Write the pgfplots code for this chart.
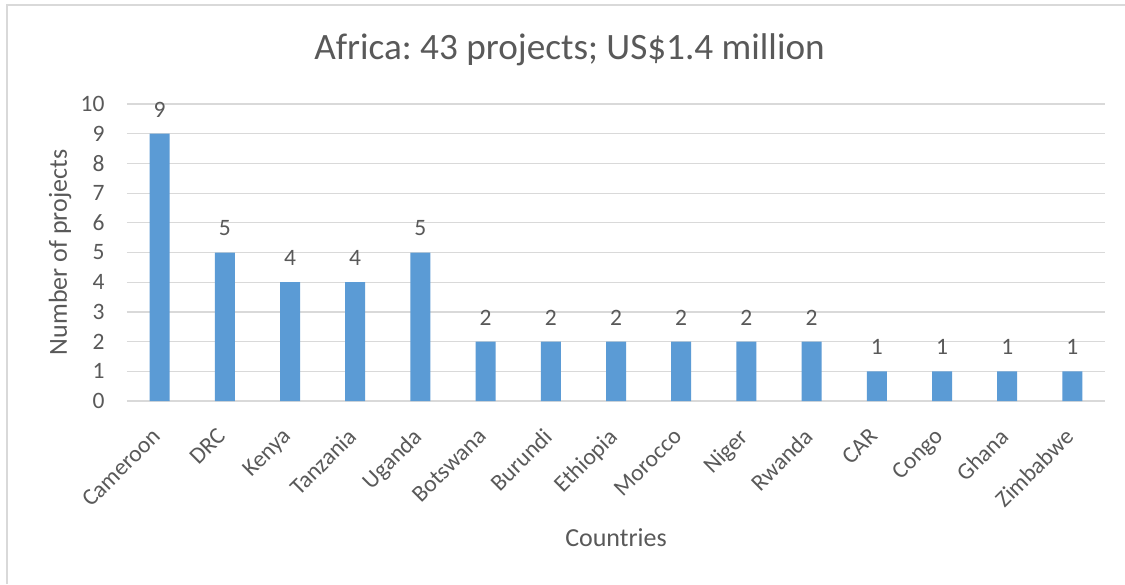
\documentclass[border=0pt]{standalone}
\usepackage{pgfplots}
\pgfplotsset{compat=1.18}
\usepackage{fontspec}
\setmainfont{Carlito}
\definecolor{barblue}{HTML}{5B9BD5}
\definecolor{gridgray}{HTML}{D9D9D9}
\definecolor{txtgray}{HTML}{595959}
\frenchspacing
\begin{document}
\begin{tikzpicture}
\useasboundingbox (-127pt,-183pt) rectangle (998pt,401pt);
\fill[white] (-127pt,-183pt) rectangle (998pt,401pt);
\draw[gridgray, line width=1.5pt] (-120pt,-183pt) -- (-120pt,396pt) -- (998pt,396pt);
\begin{axis}[
  at={(0pt,0pt)}, anchor=south west,
  scale only axis, width=978pt, height=297pt,
  xmin=-0.5, xmax=14.5, ymin=0, ymax=10,
  ybar, bar width=20pt,
  xtick={0,...,14},
  xticklabels={Cameroon,DRC,Kenya,Tanzania,Uganda,Botswana,Burundi,Ethiopia,Morocco,Niger,Rwanda,CAR,Congo,Ghana,Zimbabwe},
  ytick={0,...,10},
  major tick length=0pt,
  ymajorgrids, grid style={gridgray, line width=1.2pt},
  axis line style={draw=none},
  /pgf/number format/assume math mode=true,
  tick label style={font=\fontsize{23.5}{28}\selectfont, text=txtgray},
  yticklabel style={anchor=east, xshift=-19pt},
  xticklabel style={xshift=-9pt, yshift=-21pt, rotate=45, anchor=north east},
  nodes near coords,
  every node near coord/.append style={font=\fontsize{23.5}{28}\selectfont, text=txtgray, yshift=13pt},
  clip=false,
]
\addplot[fill=barblue, draw=none] coordinates {
(0,9) (1,5) (2,4) (3,4) (4,5) (5,2) (6,2) (7,2) (8,2) (9,2) (10,2) (11,1) (12,1) (13,1) (14,1)};
\end{axis}
\node[text=txtgray, font=\fontsize{37.2}{44}\selectfont] at (442.5pt,351pt) {Africa: 43 projects; US\$1.4 million};
\node[text=txtgray, font=\fontsize{26}{30}\selectfont] at (489pt,-137pt) {Countries};
\node[text=txtgray, font=\fontsize{26}{30}\selectfont, rotate=90] at (-67pt,148.5pt) {Number of projects};
\end{tikzpicture}
\end{document}
